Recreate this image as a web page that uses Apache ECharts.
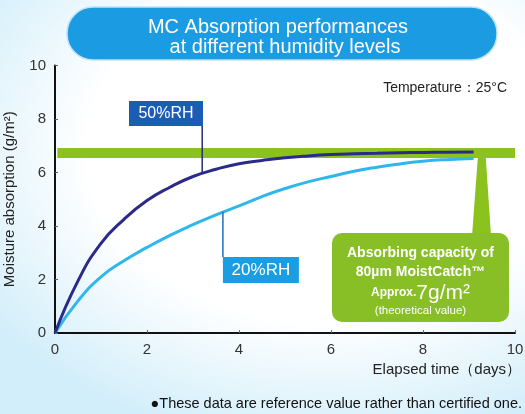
<!DOCTYPE html>
<html><head><meta charset="utf-8">
<script src="https://cdn.jsdelivr.net/npm/echarts@6/dist/echarts.min.js"></script>
<style>
html,body{margin:0;padding:0;background:#fff;}
#c{width:525px;height:414px;background:radial-gradient(ellipse 78% 72% at 62% 36%, #ffffff 58%, #d2eefa 100%);}
</style>
</head><body><div id="c"></div>
<script>
const xTicks = [0, 2, 4, 6, 8, 10];
const yTicks = [0, 2, 4, 6, 8, 10];
const days50 = [0, 0.5, 1, 1.5, 2, 2.5, 3, 3.5, 4, 4.5, 5, 5.5, 6, 6.5, 7, 7.5, 8, 8.5, 9.1];
const rh50   = [0, 1.95, 3.35, 4.25, 4.95, 5.45, 5.85, 6.12, 6.33, 6.45, 6.55, 6.62, 6.67, 6.7, 6.72, 6.74, 6.75, 6.76, 6.77];
const days20 = [0, 0.5, 1, 1.5, 2, 2.5, 3, 3.5, 4, 4.5, 5, 5.5, 6, 6.5, 7, 7.5, 8, 8.5, 9.1];
const rh20   = [0, 1.2, 2.1, 2.7, 3.2, 3.65, 4.05, 4.42, 4.75, 5.1, 5.4, 5.65, 5.85, 6.05, 6.2, 6.32, 6.42, 6.48, 6.52];
const capacityLow = 6.54, capacityHigh = 6.92;
const seriesNames = ['50%RH', '20%RH'];

const zip = (xs, ys) => xs.map((x, i) => [x, ys[i]]);
const font = '"Liberation Sans", Arial, sans-serif';

const chart = echarts.init(document.getElementById('c'), null, {renderer: 'canvas'});
chart.setOption({
  animation: false,
  backgroundColor: 'transparent',
  grid: {left: 55, right: 10, top: 65.5, bottom: 81, containLabel: false, outerBoundsMode: 'none'},
  xAxis: {
    type: 'value', min: xTicks[0], max: xTicks[xTicks.length - 1], interval: 2,
    axisLine: {lineStyle: {color: '#111', width: 2}},
    axisTick: {inside: true, length: 3, lineStyle: {color: '#666'}},
    axisLabel: {color: '#333', fontSize: 15, fontFamily: font, margin: 9},
    splitLine: {show: false}
  },
  yAxis: {
    type: 'value', min: yTicks[0], max: yTicks[yTicks.length - 1], interval: 2,
    name: 'Moisture absorption (g/m²)', nameLocation: 'middle', nameGap: 38,
    nameTextStyle: {color: '#222', fontSize: 15, fontFamily: font},
    axisLine: {show: true, lineStyle: {color: '#111', width: 2}},
    axisTick: {show: true, inside: true, length: 3, lineStyle: {color: '#666'}},
    axisLabel: {color: '#333', fontSize: 15, fontFamily: font, margin: 9},
    splitLine: {show: false}
  },
  series: [
    {
      name: 'capacity', type: 'line', data: [], silent: true, z: 1,
      markArea: {silent: true, itemStyle: {color: '#8cc21e', opacity: 1},
        data: [[{coord: [0.05, capacityLow]}, {coord: [10, capacityHigh]}]]}
    },
    {
      name: seriesNames[0], type: 'line', smooth: 0.5, showSymbol: false, z: 3,
      data: zip(days50, rh50), lineStyle: {color: '#2b2a8a', width: 3}
    },
    {
      name: seriesNames[1], type: 'line', smooth: 0.5, showSymbol: false, z: 2,
      data: zip(days20, rh20), lineStyle: {color: '#2fb6ec', width: 3}
    }
  ]
});

const p50 = chart.convertToPixel({seriesIndex: 1}, [3.2, 5.97]);
const p20 = chart.convertToPixel({seriesIndex: 2}, [3.65, 4.53]);
const pBand = chart.convertToPixel({seriesIndex: 1}, [9.3, capacityLow]);

chart.setOption({
  graphic: [
    {type: 'rect', shape: {x: 67, y: 7, width: 430, height: 53, r: 26},
     style: {fill: '#1a9be2', stroke: '#bfe3f7', lineWidth: 1.5}, z: 10},
    {type: 'text', x: 278, y: 27, z: 11,
     style: {text: 'MC Absorption performances', fill: '#fff', font: '20px ' + font, align: 'center', verticalAlign: 'middle'}},
    {type: 'text', x: 285, y: 47, z: 11,
     style: {text: 'at different humidity levels', fill: '#fff', font: '20px ' + font, align: 'center', verticalAlign: 'middle'}},
    {type: 'text', x: 507, y: 88, z: 11,
     style: {text: 'Temperature：25°C', fill: '#222', font: '14px ' + font, align: 'right', verticalAlign: 'middle'}},
    {type: 'line', shape: {x1: p50[0], y1: 126, x2: p50[0], y2: p50[1]}, style: {stroke: '#2b2a7a', lineWidth: 1.5}, z: 5},
    {type: 'rect', shape: {x: 129, y: 101, width: 74, height: 25}, style: {fill: '#1b5db4'}, z: 6},
    {type: 'text', x: 166, y: 114, z: 7,
     style: {text: '50%RH', fill: '#fff', font: '16px ' + font, align: 'center', verticalAlign: 'middle'}},
    {type: 'line', shape: {x1: p20[0], y1: p20[1], x2: p20[0], y2: 257}, style: {stroke: '#1f6cc0', lineWidth: 1.5}, z: 5},
    {type: 'rect', shape: {x: p20[0], y: 257, width: 76, height: 26}, style: {fill: '#1b9de2'}, z: 6},
    {type: 'text', x: p20[0] + 38, y: 270.5, z: 7,
     style: {text: '20%RH', fill: '#fff', font: '17px ' + font, align: 'center', verticalAlign: 'middle'}},
    {type: 'polygon', shape: {points: [[pBand[0] - 5, pBand[1]], [pBand[0] + 3, pBand[1]], [491, 236], [472, 236]]},
     style: {fill: '#8cc21e'}, z: 6},
    {type: 'rect', shape: {x: 332, y: 233, width: 177, height: 89, r: 10}, style: {fill: '#88be26'}, z: 6},
    {type: 'text', x: 420.5, y: 253, z: 7,
     style: {text: 'Absorbing capacity of', fill: '#fff', font: 'bold 14px ' + font, align: 'center', verticalAlign: 'middle'}},
    {type: 'text', x: 420.5, y: 272, z: 7,
     style: {text: '80µm MoistCatch™', fill: '#fff', font: 'bold 14px ' + font, align: 'center', verticalAlign: 'middle'}},
    {type: 'text', x: 420.5, y: 293, z: 7,
     style: {text: '{s|Approx.}{b|7g/m²}', align: 'center', verticalAlign: 'middle',
       rich: {s: {fill: '#fff', font: 'bold 12px ' + font}, b: {fill: '#fff', font: '21px ' + font}}}},
    {type: 'text', x: 420.5, y: 311, z: 7,
     style: {text: '(theoretical value)', fill: '#fff', font: '11.5px ' + font, align: 'center', verticalAlign: 'middle'}},
    {type: 'text', x: 521, y: 370, z: 7,
     style: {text: 'Elapsed time（days）', fill: '#222', font: '15px ' + font, align: 'right', verticalAlign: 'middle'}},
    {type: 'text', x: 522, y: 404, z: 7,
     style: {text: '●These data are reference value rather than certified one.', fill: '#111', font: '14.5px ' + font, align: 'right', verticalAlign: 'middle'}}
  ]
});
</script>
</body></html>
